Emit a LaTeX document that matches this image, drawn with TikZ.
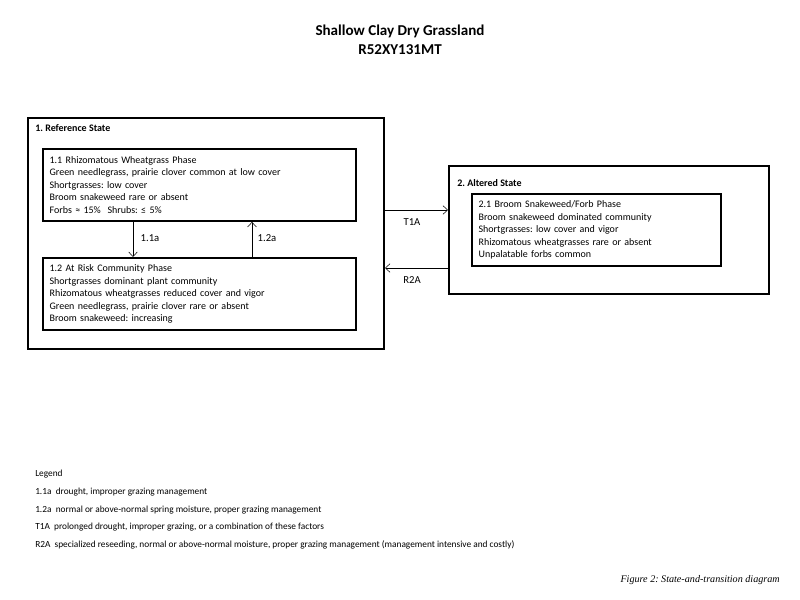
\documentclass[tikz,border=0pt]{standalone}
\usepackage{fontspec}
\setmainfont{Carlito}
\newfontfamily\capfont{Liberation Serif}
\usepackage{tikz}
\usetikzlibrary{positioning,arrows.meta}
\frenchspacing

\begin{document}
\begin{tikzpicture}[x=0.75pt, y=-0.75pt,
    >={Straight Barb[length=3.5pt,width=6.5pt]},
    statebox/.style={draw=black, line width=1.5pt, anchor=north west},
    phasebox/.style={draw=black, line width=1.4pt, anchor=north west, align=left,
       inner sep=5pt, font=\fontsize{7.5}{9.4}\selectfont},
    statename/.style={anchor=west, inner sep=0pt, font=\fontsize{7.5}{9}\selectfont\bfseries},
    trlabel/.style={inner sep=0pt, font=\fontsize{8}{9}\selectfont},
    legendline/.style={anchor=west, inner sep=0pt, font=\fontsize{7}{9}\selectfont}]

   \useasboundingbox[fill=white] (0,0) rectangle (800,600);

   % title
   \node[font=\fontsize{11.3}{14}\selectfont\bfseries, align=center] (title) at (400,40)
      {Shallow Clay Dry Grassland\\R52XY131MT};

   % reference state
   \node[statebox, minimum width=267pt, minimum height=173.25pt] (state1) at (27,117) {};
   \node[statename] (name1) at (35,128) {1. Reference State};
   \node[phasebox, text width=224.75pt, minimum height=54pt] (phase11) at (42,148)
      {1.1 Rhizomatous Wheatgrass Phase\\
       Green needlegrass, prairie clover common at low cover\\
       Shortgrasses: low cover\\
       Broom snakeweed rare or absent\\
       Forbs ≈ 15\%~~Shrubs: ≤ 5\%};
   \node[phasebox, text width=224.75pt, minimum height=51.75pt] (phase12) at (42,257)
      {1.2 At Risk Community Phase\\
       Shortgrasses dominant plant community\\
       Rhizomatous wheatgrasses reduced cover and vigor\\
       Green needlegrass, prairie clover rare or absent\\
       Broom snakeweed: increasing};

   % altered state
   \node[statebox, minimum width=240pt, minimum height=96pt] (state2) at (448,165) {};
   \node[statename] (name2) at (457,183) {2. Altered State};
   \node[phasebox, text width=176.75pt, minimum height=53.25pt] (phase21) at (471,193)
      {2.1 Broom Snakeweed/Forb Phase\\
       Broom snakeweed dominated community\\
       Shortgrasses: low cover and vigor\\
       Rhizomatous wheatgrasses rare or absent\\
       Unpalatable forbs common};

   % pathways
   \coordinate (p11a) at (133,0);
   \coordinate (p12a) at (252,0);
   \draw[->] (phase11.south -| p11a) -- (phase12.north -| p11a);
   \draw[->] (phase12.north -| p12a) -- (phase11.south -| p12a);
   \node[trlabel] (l11a) at (150,238) {1.1a};
   \node[trlabel] (l12a) at (267,238) {1.2a};

   % transitions
   \coordinate (t1a) at (0,210);
   \coordinate (r2a) at (0,268);
   \draw[->] (state1.east |- t1a) -- (state2.west |- t1a);
   \draw[->] (state2.west |- r2a) -- (state1.east |- r2a);
   \node[trlabel] (lt1a) at (412,222) {T1A};
   \node[trlabel] (lr2a) at (412,280) {R2A};

   % legend
   \node[legendline] (leg0) at (35,474) {Legend};
   \node[legendline] (leg1) at (35,492) {1.1a~~drought, improper grazing management};
   \node[legendline] (leg2) at (35,510) {1.2a~~normal or above-normal spring moisture, proper grazing management};
   \node[legendline] (leg3) at (35,527) {T1A~~prolonged drought, improper grazing, or a combination of these factors};
   \node[legendline] (leg4) at (35,545) {R2A~~specialized reseeding, normal or above-normal moisture, proper grazing management (management intensive and costly)};

   \node[anchor=east, inner sep=0pt, font=\capfont\itshape\fontsize{7.6}{8}\selectfont] (caption) at (780,580)
      {Figure 2: State-and-transition diagram};

\end{tikzpicture}
\end{document}
